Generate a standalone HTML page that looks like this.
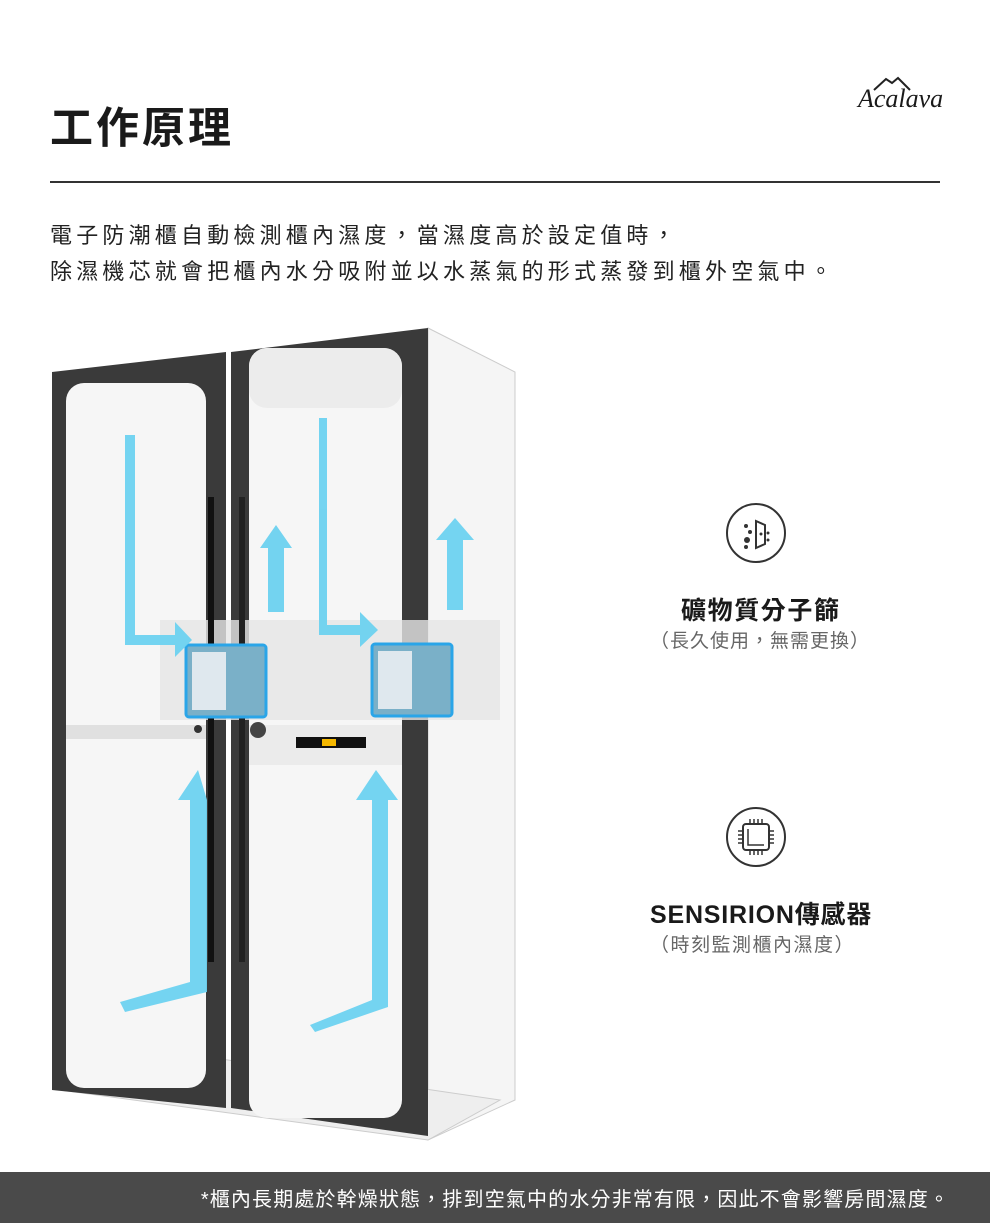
<!DOCTYPE html>
<html><head><meta charset="utf-8"><style>
body{margin:0;width:990px;height:1223px;background:#fff;position:relative;overflow:hidden;font-family:"Liberation Sans","Noto Sans CJK TC",sans-serif;color:#1a1a1a}
.t{position:absolute;white-space:nowrap}
</style></head><body>
<div class="t" style="left:50px;top:94px;font-size:43px;font-weight:bold;letter-spacing:3px">工作原理</div>
<div class="t" style="left:858px;top:84px;font-family:'Liberation Serif',serif;font-style:italic;font-size:26px">Acalava</div>
<svg style="position:absolute;left:872px;top:76px" width="40" height="16"><path d="M2 14 L14 3 L20 7 L26 2 L38 14" fill="none" stroke="#222" stroke-width="2"/></svg>
<div style="position:absolute;left:50px;top:181px;width:890px;height:2px;background:#333"></div>
<div class="t" style="left:50px;top:218px;font-size:22px;letter-spacing:4.2px;line-height:36px;color:#222">電子防潮櫃自動檢測櫃內濕度，當濕度高於設定值時，<br>除濕機芯就會把櫃內水分吸附並以水蒸氣的形式蒸發到櫃外空氣中。</div>

<svg style="position:absolute;left:0;top:0" width="990" height="1223">
<polygon points="428,328 515,372 515,1100 428,1140" fill="#f5f5f5" stroke="#ccc"/>
<polygon points="60,1090 428,1140 500,1100 160,1050" fill="#eee" stroke="#ccc"/>
<polygon points="52,372 226,352 226,1108 52,1090" fill="#3a3a3a"/>
<rect x="66" y="383" width="140" height="705" rx="18" fill="#f6f6f6"/>
<polygon points="231,352 428,328 428,1136 231,1108" fill="#3a3a3a"/>
<rect x="249" y="348" width="153" height="770" rx="18" fill="#f6f6f6"/>
<rect x="249" y="348" width="153" height="60" rx="18" fill="#ececec"/>
<rect x="160" y="620" width="340" height="100" fill="#e6e6e6" opacity=".8"/>
<rect x="66" y="725" width="140" height="14" fill="#e0e0e0"/>
<rect x="249" y="725" width="153" height="40" fill="#ebebeb"/>
<rect x="296" y="737" width="70" height="11" fill="#111"/>
<rect x="322" y="739" width="14" height="7" fill="#f5b800"/>
<rect x="208" y="497" width="6" height="465" fill="#111"/>
<rect x="239" y="497" width="6" height="465" fill="#222"/>
<circle cx="198" cy="729" r="4" fill="#333"/><circle cx="258" cy="730" r="8" fill="#444"/>
<rect x="186" y="645" width="80" height="72" rx="3" fill="#7ab0c8" stroke="#2aa5e8" stroke-width="3"/>
<rect x="372" y="644" width="80" height="72" rx="3" fill="#7ab0c8" stroke="#2aa5e8" stroke-width="3"/>
<rect x="192" y="652" width="34" height="58" fill="#dfe8ee"/>
<rect x="378" y="651" width="34" height="58" fill="#dfe8ee"/>
<g fill="#6dd2f0" opacity=".95">
<path d="M125 435 H135 V635 H175 V622 L192 640 L175 657 V645 H125 Z"/>
<path d="M268 612 V548 H260 L276 525 L292 548 H284 V612 Z"/>
<path d="M319 418 H327 V625 H360 V612 L378 630 L360 647 V635 H319 Z"/>
<path d="M447 610 V540 H436 L455 518 L474 540 H463 V610 Z"/>
<path d="M120 1002 L190 982 V800 H178 L198 770 L207 800 V992 L125 1012 Z"/>
<path d="M310 1025 L372 1000 V800 H356 L376 770 L398 800 H388 V1007 L315 1032 Z"/>
</g>
</svg>

<svg style="position:absolute;left:725px;top:502px" width="62" height="62"><circle cx="31" cy="31" r="29" fill="none" stroke="#333" stroke-width="2"/><path d="M31 19 L40 23 L40 42 L31 46 Z" fill="none" stroke="#333" stroke-width="2"/><g fill="#333"><circle cx="21" cy="24" r="2"/><circle cx="25" cy="30" r="2"/><circle cx="22" cy="38" r="3"/><circle cx="21" cy="45" r="2"/><circle cx="36" cy="32" r="1.5"/><circle cx="43" cy="31" r="1.5"/><circle cx="43" cy="38" r="1.5"/></g></svg>
<div class="t" style="left:681px;top:591px;font-size:25px;letter-spacing:1.6px;font-weight:bold">礦物質分子篩</div>
<div class="t" style="left:650px;top:626px;font-size:19px;letter-spacing:1px;color:#666">（長久使用，無需更換）</div>

<svg style="position:absolute;left:725px;top:806px" width="62" height="62"><circle cx="31" cy="31" r="29" fill="none" stroke="#333" stroke-width="2"/><rect x="18" y="18" width="26" height="26" rx="3" fill="none" stroke="#333" stroke-width="2"/><path d="M23 23 V39 H39" fill="none" stroke="#333" stroke-width="1.5"/><g stroke="#333" stroke-width="1.5"><path d="M25 13 V18 M29 13 V18 M33 13 V18 M37 13 V18 M25 44 V49 M29 44 V49 M33 44 V49 M37 44 V49 M13 25 H18 M13 29 H18 M13 33 H18 M13 37 H18 M44 25 H49 M44 29 H49 M44 33 H49 M44 37 H49"/></g></svg>
<div class="t" style="left:650px;top:895px;font-size:25px;letter-spacing:0.8px;font-weight:bold">SENSIRION傳感器</div>
<div class="t" style="left:650px;top:930px;font-size:19px;letter-spacing:1.5px;color:#666">（時刻監測櫃內濕度）</div>

<div style="position:absolute;left:0;top:1172px;width:990px;height:51px;background:#4a4a4a"></div>
<div class="t" style="right:40px;top:1183px;font-size:20px;letter-spacing:1.15px;color:#fff">*櫃內長期處於幹燥狀態，排到空氣中的水分非常有限，因此不會影響房間濕度。</div>
</body></html>
